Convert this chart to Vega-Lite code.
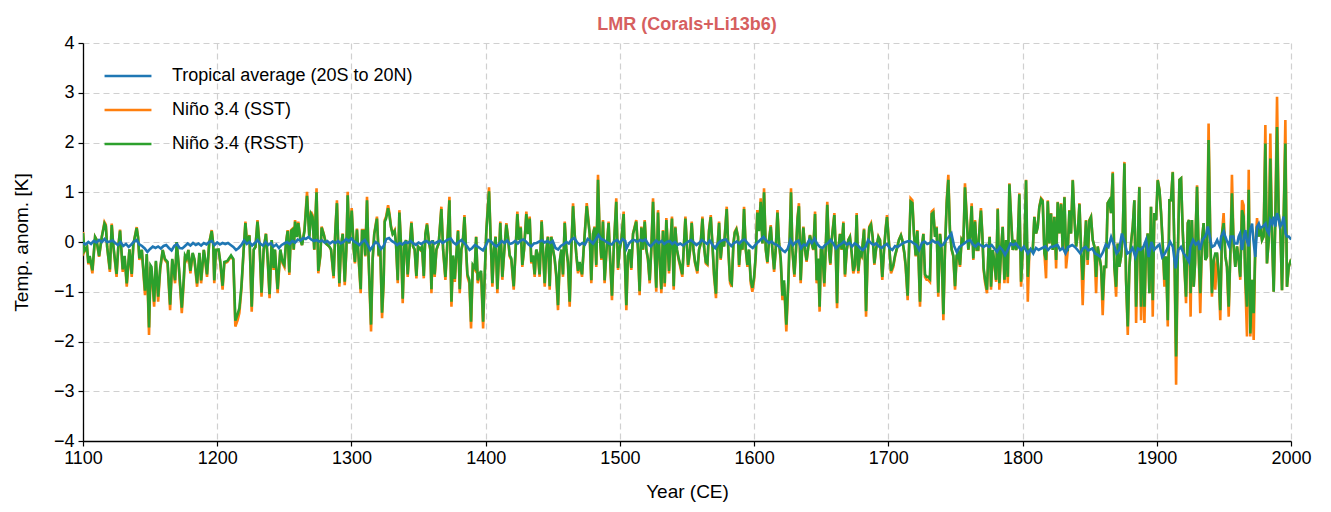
{
"$schema": "https://vega.github.io/schema/vega-lite/v6.json",
"width": 1208, "height": 398,
"autosize": {"type": "none"},
"padding": {"left": 83, "top": 43, "right": 40, "bottom": 71},
"background": "white",
"config": {"view": {"stroke": null}, "font": "Liberation Sans"},
"title": {"text": "LMR (Corals+Li13b6)", "color": "#d65f5f", "fontSize": 18, "fontWeight": "bold", "font": "Liberation Sans", "offset": 0},
"datasets": {
"nino": [
{"yr":1100,"a":0.2,"b":0.18},{"yr":1101,"a":-0.2,"b":-0.18},{"yr":1103,"a":-0.1,"b":-0.1},{"yr":1104,"a":-0.45,"b":-0.42},{"yr":1105,"a":-0.3,"b":-0.28},{"yr":1107,"a":-0.63,"b":-0.57},{"yr":1109,"a":0.1,"b":0.1},{"yr":1110,"a":0.05,"b":0.05},{"yr":1112,"a":-0.3,"b":-0.28},{"yr":1114,"a":0.1,"b":0.1},{"yr":1116,"a":0.4,"b":0.37},{"yr":1117,"a":0.35,"b":0.32},{"yr":1118,"a":-0.1,"b":-0.1},{"yr":1120,"a":-0.6,"b":-0.55},{"yr":1121.4,"a":0.37,"b":0.34},{"yr":1122.5,"a":-0.05,"b":-0.05},{"yr":1125,"a":-0.7,"b":-0.64},{"yr":1126.3,"a":-0.1,"b":-0.1},{"yr":1127.6,"a":0.25,"b":0.23},{"yr":1129.6,"a":-0.6,"b":-0.55},{"yr":1131,"a":-0.3,"b":-0.28},{"yr":1132.6,"a":-0.9,"b":-0.83},{"yr":1134.6,"a":-0.15,"b":-0.15},{"yr":1136.3,"a":-0.7,"b":-0.64},{"yr":1137.5,"a":-0.05,"b":-0.05},{"yr":1140,"a":0.3,"b":0.28},{"yr":1141,"a":0.1,"b":0.1},{"yr":1142,"a":-0.36,"b":-0.33},{"yr":1143.8,"a":-0.16,"b":-0.16},{"yr":1146.2,"a":-1.07,"b":-0.98},{"yr":1147.5,"a":-0.25,"b":-0.24},{"yr":1149.2,"a":-1.87,"b":-1.72},{"yr":1150.3,"a":-0.5,"b":-0.47},{"yr":1151,"a":-0.55,"b":-0.5},{"yr":1153,"a":-1.3,"b":-1.2},{"yr":1154.3,"a":-0.4,"b":-0.38},{"yr":1156,"a":-1.2,"b":-1.1},{"yr":1157.5,"a":-0.56,"b":-0.52},{"yr":1159.4,"a":-0.16,"b":-0.16},{"yr":1161,"a":-0.36,"b":-0.34},{"yr":1163,"a":-0.43,"b":-0.4},{"yr":1164.9,"a":-1.37,"b":-1.26},{"yr":1166.5,"a":-0.36,"b":-0.34},{"yr":1168.6,"a":-0.83,"b":-0.77},{"yr":1169.8,"a":0.0,"b":0.0},{"yr":1171.5,"a":-0.56,"b":-0.52},{"yr":1173.6,"a":-1.43,"b":-1.32},
{"yr":1175,"a":-0.83,"b":-0.77},{"yr":1176,"a":-0.29,"b":-0.27},{"yr":1177.2,"a":-0.36,"b":-0.33},{"yr":1178.5,"a":-0.16,"b":-0.16},{"yr":1180,"a":-0.63,"b":-0.58},{"yr":1181.7,"a":-0.23,"b":-0.22},{"yr":1183,"a":-0.36,"b":-0.34},{"yr":1185,"a":-0.9,"b":-0.83},{"yr":1186.7,"a":-0.23,"b":-0.22},{"yr":1188,"a":-0.83,"b":-0.77},{"yr":1190,"a":-0.16,"b":-0.16},{"yr":1191,"a":-0.36,"b":-0.34},{"yr":1192.4,"a":-0.7,"b":-0.65},{"yr":1194,"a":-0.03,"b":-0.03},{"yr":1195.9,"a":0.24,"b":0.22},{"yr":1197,"a":-0.03,"b":-0.03},{"yr":1197.8,"a":-0.83,"b":-0.77},{"yr":1199,"a":-0.16,"b":-0.16},{"yr":1201,"a":-0.16,"b":-0.15},{"yr":1202.3,"a":-0.43,"b":-0.4},{"yr":1204,"a":-0.96,"b":-0.88},{"yr":1205.3,"a":-0.43,"b":-0.4},{"yr":1207.5,"a":-0.4,"b":-0.38},{"yr":1210.3,"a":-0.29,"b":-0.27},{"yr":1212,"a":-0.36,"b":-0.34},{"yr":1213.5,"a":-1.7,"b":-1.58},{"yr":1215.2,"a":-1.57,"b":-1.45},{"yr":1216.5,"a":-1.43,"b":-1.33},{"yr":1218,"a":-0.96,"b":-0.9},{"yr":1219.7,"a":-0.16,"b":-0.15},{"yr":1221,"a":0.41,"b":0.38},{"yr":1222.2,"a":-0.03,"b":-0.03},{"yr":1224,"a":0.14,"b":0.13},{"yr":1225.7,"a":-1.4,"b":-1.3},{"yr":1227.2,"a":-0.16,"b":-0.15},{"yr":1228.5,"a":-0.1,"b":-0.1},{"yr":1230,"a":0.44,"b":0.41},{"yr":1231.6,"a":-0.09,"b":-0.09},{"yr":1233,"a":-1.1,"b":-1.02},{"yr":1234.6,"a":-0.16,"b":-0.15},{"yr":1236.3,"a":0.17,"b":0.16},{"yr":1237.6,"a":-0.36,"b":-0.34},{"yr":1239,"a":-1.13,"b":-1.05},{"yr":1240.6,"a":0.04,"b":0.04},{"yr":1242,"a":-0.56,"b":-0.52},{"yr":1243,"a":-0.16,"b":-0.15},{"yr":1245,"a":-1.03,"b":-0.95},{"yr":1247,"a":-0.16,"b":-0.15},{"yr":1248.7,"a":-0.43,"b":-0.4},{"yr":1250,"a":-0.5,"b":-0.46},{"yr":1251.2,"a":-0.03,"b":-0.03},{"yr":1252.5,"a":0.24,"b":0.22},{"yr":1253.7,"a":-0.66,"b":-0.61},{"yr":1255,"a":0.24,"b":0.22},{"yr":1256.2,"a":0.27,"b":0.25},{"yr":1257,"a":-0.16,"b":-0.15},{"yr":1258,"a":0.44,"b":0.41},{"yr":1259.4,"a":0.11,"b":0.1},{"yr":1260.4,"a":0.41,"b":0.38},{"yr":1262,"a":0.04,"b":0.04},{"yr":1263.2,"a":-0.06,"b":-0.06},{"yr":1265,"a":0.24,"b":0.22},{"yr":1266.9,"a":1.01,"b":0.93},{"yr":1268.6,"a":0.11,"b":0.1},{"yr":1269.9,"a":0.61,"b":0.56},{"yr":1271,"a":0.54,"b":0.5},{"yr":1272.3,"a":-0.16,"b":-0.15},{"yr":1274,"a":1.08,"b":1.0},{"yr":1275.3,"a":-0.63,"b":-0.58},{"yr":1276.8,"a":-0.29,"b":-0.27},{"yr":1277.8,"a":0.31,"b":0.29},{"yr":1279.3,"a":0.17,"b":0.16},{"yr":1281,"a":-0.03,"b":-0.03},{"yr":1283.5,"a":-0.09,"b":-0.09},{"yr":1284.8,"a":-0.16,"b":-0.15},{"yr":1286.7,"a":-0.73,"b":-0.68},{"yr":1288,"a":0.24,"b":0.22},{"yr":1289.2,"a":0.84,"b":0.78},{"yr":1291,"a":-0.9,"b":-0.83},{"yr":1292.2,"a":-0.09,"b":-0.09},{"yr":1293.5,"a":0.17,"b":0.16},{"yr":1295,"a":-0.87,"b":-0.8},{"yr":1296.2,"a":-0.16,"b":-0.15},{"yr":1297.2,"a":1.01,"b":0.94},{"yr":1298.4,"a":-0.03,"b":-0.03},{"yr":1300.2,"a":0.68,"b":0.63},{"yr":1301.7,"a":-0.16,"b":-0.15},{"yr":1302.6,"a":-0.43,"b":-0.4},{"yr":1304.1,"a":0.27,"b":0.25},{"yr":1305.4,"a":-0.36,"b":-0.33},{"yr":1306.9,"a":-1.03,"b":-0.95},{"yr":1307.9,"a":0.24,"b":0.22},{"yr":1309.1,"a":0.24,"b":0.22},{"yr":1310.3,"a":-0.29,"b":-0.27},{"yr":1311.6,"a":0.91,"b":0.84},{"yr":1312.8,"a":-0.36,"b":-0.33},{"yr":1314.6,"a":-1.8,"b":-1.66},{"yr":1315.8,"a":-0.36,"b":-0.33},{"yr":1317,"a":0.17,"b":0.16},{"yr":1319,"a":0.51,"b":0.47},{"yr":1320.3,"a":-0.29,"b":-0.27},{"yr":1321.5,"a":-0.16,"b":-0.15},{"yr":1322.8,"a":-1.53,"b":-1.42},
{"yr":1324,"a":-0.83,"b":-0.77},{"yr":1324.8,"a":0.44,"b":0.41},{"yr":1325.8,"a":0.51,"b":0.47},{"yr":1327.3,"a":0.74,"b":0.68},{"yr":1328.3,"a":0.58,"b":0.54},{"yr":1329.5,"a":0.31,"b":0.29},{"yr":1330.7,"a":0.17,"b":0.16},{"yr":1332.2,"a":0.24,"b":0.22},{"yr":1333.2,"a":-0.03,"b":-0.03},{"yr":1334.5,"a":-0.83,"b":-0.77},{"yr":1335.7,"a":0.64,"b":0.59},{"yr":1337,"a":-0.09,"b":-0.09},{"yr":1338.2,"a":-1.23,"b":-1.14},{"yr":1339.4,"a":-0.09,"b":-0.09},{"yr":1340.7,"a":0.04,"b":0.04},{"yr":1341.9,"a":-0.7,"b":-0.65},{"yr":1343.2,"a":-0.16,"b":-0.15},{"yr":1344.7,"a":0.41,"b":0.38},{"yr":1345.9,"a":-0.09,"b":-0.09},{"yr":1347.1,"a":-0.16,"b":-0.15},{"yr":1348.4,"a":-0.73,"b":-0.68},{"yr":1349.6,"a":-0.09,"b":-0.09},{"yr":1351.4,"a":-0.16,"b":-0.15},{"yr":1352.6,"a":-0.09,"b":-0.09},{"yr":1353.9,"a":-0.73,"b":-0.68},{"yr":1355.1,"a":0.17,"b":0.16},{"yr":1356.3,"a":0.38,"b":0.35},{"yr":1357.6,"a":0.04,"b":0.04},{"yr":1358.8,"a":-0.16,"b":-0.15},{"yr":1359.6,"a":-1.03,"b":-0.95},{"yr":1360.6,"a":0.04,"b":0.04},{"yr":1362,"a":-0.7,"b":-0.65},{"yr":1363.3,"a":-0.16,"b":-0.15},{"yr":1365,"a":-0.03,"b":-0.03},{"yr":1367,"a":0.71,"b":0.66},{"yr":1368.3,"a":-0.16,"b":-0.15},{"yr":1370,"a":-0.76,"b":-0.7},{"yr":1371.2,"a":-0.16,"b":-0.15},{"yr":1373,"a":0.91,"b":0.84},{"yr":1374.5,"a":-1.3,"b":-1.2},{"yr":1375.7,"a":-0.29,"b":-0.27},{"yr":1377,"a":-0.8,"b":-0.74},{"yr":1378.4,"a":-0.16,"b":-0.15},{"yr":1379.4,"a":0.24,"b":0.22},{"yr":1380.7,"a":-1.03,"b":-0.95},{"yr":1381.9,"a":-0.16,"b":-0.15},{"yr":1382.9,"a":-0.03,"b":-0.03},{"yr":1384.2,"a":0.54,"b":0.5},{"yr":1385.4,"a":-0.16,"b":-0.15},{"yr":1386.4,"a":-0.7,"b":-0.65},{"yr":1387.9,"a":-0.83,"b":-0.77},{"yr":1389.1,"a":-1.74,"b":-1.6},{"yr":1390.4,"a":-0.5,"b":-0.46},{"yr":1391.9,"a":-0.56,"b":-0.52},{"yr":1392.9,"a":0.11,"b":0.1},{"yr":1394.1,"a":-0.83,"b":-0.77},{"yr":1395.3,"a":-0.7,"b":-0.65},{"yr":1396.6,"a":-0.63,"b":-0.58},{"yr":1398.1,"a":-1.74,"b":-1.6},
{"yr":1399.3,"a":-0.7,"b":-0.65},{"yr":1400.5,"a":0.24,"b":0.22},{"yr":1402.5,"a":1.1,"b":1.02},{"yr":1404,"a":-0.16,"b":-0.15},{"yr":1405,"a":-0.9,"b":-0.83},{"yr":1406.2,"a":-0.16,"b":-0.15},{"yr":1407.4,"a":0.11,"b":0.1},{"yr":1408.7,"a":-1.03,"b":-0.95},{"yr":1409.9,"a":-0.29,"b":-0.27},{"yr":1410.9,"a":0.41,"b":0.38},{"yr":1412.4,"a":-0.76,"b":-0.7},{"yr":1413.6,"a":-0.29,"b":-0.27},{"yr":1415.4,"a":0.38,"b":0.35},{"yr":1416.6,"a":0.11,"b":0.1},{"yr":1417.9,"a":-0.29,"b":-0.27},{"yr":1419.1,"a":-0.36,"b":-0.33},{"yr":1420.9,"a":-0.96,"b":-0.89},{"yr":1422.3,"a":-0.16,"b":-0.15},{"yr":1423.6,"a":0.61,"b":0.56},{"yr":1424.8,"a":0.04,"b":0.04},{"yr":1426.1,"a":0.31,"b":0.29},{"yr":1427.3,"a":-0.5,"b":-0.46},{"yr":1428.6,"a":-0.16,"b":-0.15},{"yr":1430.3,"a":0.61,"b":0.56},{"yr":1431.5,"a":0.17,"b":0.16},{"yr":1432.8,"a":0.51,"b":0.47},{"yr":1434,"a":-0.43,"b":-0.4},{"yr":1435.3,"a":-0.29,"b":-0.27},{"yr":1436.5,"a":-0.7,"b":-0.65},{"yr":1437.7,"a":-0.16,"b":-0.15},{"yr":1439,"a":-0.29,"b":-0.27},{"yr":1440.2,"a":-0.7,"b":-0.65},{"yr":1441.7,"a":0.44,"b":0.41},{"yr":1442.7,"a":-0.16,"b":-0.15},{"yr":1444,"a":-0.9,"b":-0.83},{"yr":1445.2,"a":-0.16,"b":-0.15},{"yr":1446.4,"a":0.11,"b":0.1},{"yr":1447.7,"a":-0.96,"b":-0.89},{"yr":1448.9,"a":0.11,"b":0.1},{"yr":1450.2,"a":-0.16,"b":-0.15},{"yr":1451.4,"a":-0.36,"b":-0.33},{"yr":1452.6,"a":-0.7,"b":-0.65},{"yr":1453.9,"a":-1.37,"b":-1.27},{"yr":1455.1,"a":-0.43,"b":-0.4},{"yr":1456.4,"a":-0.16,"b":-0.15},{"yr":1457.6,"a":-0.7,"b":-0.65},{"yr":1458.9,"a":0.41,"b":0.38},{"yr":1460.1,"a":-0.16,"b":-0.15},{"yr":1461.3,"a":-0.43,"b":-0.4},{"yr":1462.6,"a":-1.3,"b":-1.2},{"yr":1463.8,"a":-0.16,"b":-0.15},{"yr":1465.1,"a":0.78,"b":0.72},{"yr":1466.3,"a":0.17,"b":0.16},{"yr":1467.6,"a":-0.29,"b":-0.27},{"yr":1468.8,"a":-0.63,"b":-0.58},{"yr":1470,"a":-0.43,"b":-0.4},{"yr":1471.8,"a":-0.7,"b":-0.65},{"yr":1473,"a":-0.16,"b":-0.15},{"yr":1475.3,"a":0.78,"b":0.72},
{"yr":1477.5,"a":0.17,"b":0.16},{"yr":1478.7,"a":-0.83,"b":-0.77},{"yr":1480,"a":0.17,"b":0.16},{"yr":1481.2,"a":0.31,"b":0.29},{"yr":1482.4,"a":-0.5,"b":-0.46},{"yr":1483.7,"a":1.35,"b":1.25},{"yr":1484.9,"a":0.17,"b":0.16},{"yr":1486.2,"a":-0.36,"b":-0.33},{"yr":1487.4,"a":0.44,"b":0.41},{"yr":1488.6,"a":-0.83,"b":-0.77},{"yr":1489.9,"a":-0.23,"b":-0.21},{"yr":1491.6,"a":0.41,"b":0.38},{"yr":1492.4,"a":-0.16,"b":-0.15},{"yr":1494.1,"a":-1.17,"b":-1.08},{"yr":1495.4,"a":-0.16,"b":-0.15},{"yr":1497.3,"a":0.88,"b":0.81},{"yr":1498.6,"a":-0.56,"b":-0.52},{"yr":1499.8,"a":-0.16,"b":-0.15},{"yr":1501.1,"a":0.04,"b":0.04},{"yr":1502.8,"a":0.61,"b":0.56},{"yr":1503.5,"a":-0.16,"b":-0.15},{"yr":1504.8,"a":-1.37,"b":-1.27},{"yr":1506,"a":-0.29,"b":-0.27},{"yr":1507.3,"a":-0.16,"b":-0.15},{"yr":1508.5,"a":-0.56,"b":-0.52},{"yr":1509.8,"a":0.17,"b":0.16},{"yr":1512.2,"a":0.44,"b":0.41},{"yr":1513.5,"a":-0.16,"b":-0.15},{"yr":1514.7,"a":-1.07,"b":-0.99},{"yr":1516,"a":0.31,"b":0.29},{"yr":1517.2,"a":-0.16,"b":-0.15},{"yr":1518.5,"a":0.44,"b":0.41},{"yr":1519.7,"a":-0.16,"b":-0.15},{"yr":1520.9,"a":-0.36,"b":-0.33},{"yr":1522.2,"a":-0.83,"b":-0.77},{"yr":1523.4,"a":-0.16,"b":-0.15},{"yr":1524.7,"a":0.88,"b":0.81},{"yr":1525.9,"a":-0.16,"b":-0.15},{"yr":1527.1,"a":-1.0,"b":-0.92},{"yr":1528.4,"a":0.64,"b":0.59},{"yr":1529.6,"a":-0.36,"b":-0.33},{"yr":1530.9,"a":-1.03,"b":-0.95},{"yr":1532.1,"a":0.24,"b":0.22},{"yr":1533.4,"a":-0.9,"b":-0.83},{"yr":1534.6,"a":0.48,"b":0.44},{"yr":1535.8,"a":-0.16,"b":-0.15},{"yr":1536.6,"a":-0.63,"b":-0.58},{"yr":1537.6,"a":-0.03,"b":-0.03},{"yr":1538.8,"a":0.51,"b":0.47},{"yr":1540.1,"a":-0.96,"b":-0.89},{"yr":1541.3,"a":0.31,"b":0.29},{"yr":1542.5,"a":-0.16,"b":-0.15},{"yr":1543.8,"a":-0.36,"b":-0.33},{"yr":1545,"a":-0.5,"b":-0.46},{"yr":1546.5,"a":-0.7,"b":-0.65},{"yr":1548.8,"a":0.51,"b":0.47},
{"yr":1550.8,"a":-0.5,"b":-0.46},{"yr":1552.3,"a":-0.16,"b":-0.15},{"yr":1553.5,"a":0.41,"b":0.38},{"yr":1554.8,"a":-0.16,"b":-0.15},{"yr":1556,"a":-0.43,"b":-0.4},{"yr":1557.7,"a":-0.63,"b":-0.58},{"yr":1559,"a":-0.16,"b":-0.15},{"yr":1560.2,"a":-0.03,"b":-0.03},{"yr":1561.5,"a":0.51,"b":0.47},{"yr":1562.7,"a":-0.09,"b":-0.09},{"yr":1564,"a":-0.43,"b":-0.4},{"yr":1565.2,"a":-0.46,"b":-0.43},{"yr":1566.4,"a":0.24,"b":0.22},{"yr":1567.7,"a":0.54,"b":0.5},{"yr":1568.9,"a":-0.03,"b":-0.03},{"yr":1570.2,"a":-0.7,"b":-0.65},{"yr":1571.6,"a":-1.13,"b":-1.04},{"yr":1572.6,"a":-0.16,"b":-0.15},{"yr":1573.9,"a":0.41,"b":0.38},{"yr":1575.1,"a":-0.36,"b":-0.33},{"yr":1576.4,"a":0.04,"b":0.04},{"yr":1577.6,"a":-0.09,"b":-0.09},{"yr":1579.6,"a":0.71,"b":0.66},{"yr":1580.8,"a":-0.16,"b":-0.15},{"yr":1582.1,"a":-0.83,"b":-0.77},{"yr":1583.3,"a":-0.9,"b":-0.83},{"yr":1584.6,"a":-0.03,"b":-0.03},{"yr":1585.6,"a":0.21,"b":0.19},{"yr":1586.8,"a":0.27,"b":0.25},{"yr":1588,"a":0.11,"b":0.1},{"yr":1588.8,"a":-0.5,"b":-0.46},{"yr":1590,"a":-0.03,"b":-0.03},{"yr":1591.3,"a":-0.16,"b":-0.15},{"yr":1592.5,"a":0.71,"b":0.66},{"yr":1593.8,"a":-0.16,"b":-0.15},{"yr":1595,"a":-0.5,"b":-0.46},{"yr":1596.2,"a":-0.16,"b":-0.15},{"yr":1597.5,"a":-0.83,"b":-0.77},{"yr":1598.7,"a":-1.0,"b":-0.92},{"yr":1600,"a":-0.76,"b":-0.7},{"yr":1601.2,"a":-0.29,"b":-0.27},{"yr":1602.4,"a":0.64,"b":0.59},{"yr":1603.7,"a":0.24,"b":0.22},{"yr":1604.9,"a":0.88,"b":0.81},{"yr":1606.2,"a":-0.03,"b":-0.03},{"yr":1607.4,"a":1.08,"b":1.0},{"yr":1608.7,"a":-0.16,"b":-0.15},{"yr":1609.9,"a":-0.43,"b":-0.4},{"yr":1611.1,"a":0.04,"b":0.04},{"yr":1612.4,"a":0.34,"b":0.31},{"yr":1613.6,"a":-0.16,"b":-0.15},{"yr":1614.9,"a":-0.6,"b":-0.55},{"yr":1616.1,"a":-0.16,"b":-0.15},{"yr":1617.4,"a":0.64,"b":0.59},{"yr":1618.6,"a":-0.03,"b":-0.03},{"yr":1619.8,"a":-0.36,"b":-0.33},{"yr":1621.1,"a":-1.17,"b":-1.08},{"yr":1622.3,"a":-0.83,"b":-0.77},{"yr":1624,"a":-1.8,"b":-1.66},
{"yr":1625.5,"a":-0.83,"b":-0.77},{"yr":1626.7,"a":0.24,"b":0.22},{"yr":1627.5,"a":1.08,"b":1.0},{"yr":1628.5,"a":-0.16,"b":-0.15},{"yr":1630,"a":-0.7,"b":-0.65},{"yr":1631.2,"a":-0.16,"b":-0.15},{"yr":1632.4,"a":0.51,"b":0.47},{"yr":1633.4,"a":0.78,"b":0.72},{"yr":1634.7,"a":-0.83,"b":-0.77},{"yr":1635.9,"a":-0.03,"b":-0.03},{"yr":1636.7,"a":0.31,"b":0.29},{"yr":1637.9,"a":-0.16,"b":-0.15},{"yr":1639.1,"a":-0.4,"b":-0.37},{"yr":1640.4,"a":-0.09,"b":-0.09},{"yr":1641.6,"a":0.14,"b":0.13},{"yr":1642.9,"a":-0.03,"b":-0.03},{"yr":1644.1,"a":-0.16,"b":-0.15},{"yr":1645.4,"a":0.61,"b":0.56},{"yr":1646.6,"a":-0.83,"b":-0.77},{"yr":1647.8,"a":-0.36,"b":-0.33},{"yr":1648.8,"a":-1.4,"b":-1.3},{"yr":1649.8,"a":-0.16,"b":-0.15},{"yr":1650.8,"a":-0.16,"b":-0.15},{"yr":1652.3,"a":-0.9,"b":-0.83},{"yr":1653.3,"a":-0.16,"b":-0.15},{"yr":1654.5,"a":0.81,"b":0.75},{"yr":1655.8,"a":-0.16,"b":-0.15},{"yr":1656.8,"a":-0.46,"b":-0.43},{"yr":1657.8,"a":0.04,"b":0.04},{"yr":1659.8,"a":0.58,"b":0.54},{"yr":1660.8,"a":-0.16,"b":-0.15},{"yr":1661.8,"a":-1.33,"b":-1.23},{"yr":1662.7,"a":-0.16,"b":-0.15},{"yr":1664,"a":0.17,"b":0.16},{"yr":1665.2,"a":-0.16,"b":-0.15},{"yr":1666.5,"a":0.41,"b":0.38},{"yr":1667.7,"a":-0.7,"b":-0.65},{"yr":1669,"a":-0.16,"b":-0.15},{"yr":1670.2,"a":0.04,"b":0.04},{"yr":1671.4,"a":0.11,"b":0.1},{"yr":1672.7,"a":-0.23,"b":-0.21},{"yr":1673.9,"a":-0.63,"b":-0.58},{"yr":1675.2,"a":-0.5,"b":-0.46},{"yr":1676.4,"a":0.58,"b":0.54},{"yr":1677.6,"a":-0.63,"b":-0.58},{"yr":1678.9,"a":-0.23,"b":-0.21},{"yr":1680.1,"a":-0.29,"b":-0.27},{"yr":1681.9,"a":0.27,"b":0.25},{"yr":1682.6,"a":-0.43,"b":-0.4},{"yr":1683.4,"a":-1.5,"b":-1.39},{"yr":1684.6,"a":-0.29,"b":-0.27},{"yr":1685.8,"a":0.31,"b":0.29},{"yr":1687.1,"a":0.38,"b":0.35},{"yr":1688.3,"a":0.11,"b":0.1},{"yr":1689.6,"a":-0.46,"b":-0.43},{"yr":1690.8,"a":-0.16,"b":-0.15},{"yr":1692.6,"a":0.11,"b":0.1},{"yr":1693.8,"a":0.04,"b":0.04},{"yr":1695.5,"a":-0.76,"b":-0.7},{"yr":1696.8,"a":-0.16,"b":-0.15},{"yr":1698,"a":0.27,"b":0.25},{"yr":1699,"a":0.54,"b":0.5},
{"yr":1700.5,"a":-0.03,"b":-0.03},{"yr":1702,"a":-0.63,"b":-0.58},{"yr":1703.7,"a":-0.5,"b":-0.46},{"yr":1705,"a":-0.29,"b":-0.27},{"yr":1706.2,"a":-0.16,"b":-0.15},{"yr":1707.9,"a":0.04,"b":0.04},{"yr":1709.4,"a":0.14,"b":0.13},{"yr":1710.4,"a":0.04,"b":0.04},{"yr":1711.9,"a":-0.23,"b":-0.21},{"yr":1712.9,"a":-0.5,"b":-0.46},{"yr":1714.4,"a":-1.17,"b":-1.08},{"yr":1715.4,"a":-0.16,"b":-0.15},{"yr":1716.6,"a":0.88,"b":0.81},{"yr":1717.9,"a":0.84,"b":0.78},{"yr":1719.1,"a":0.17,"b":0.16},{"yr":1720.4,"a":-0.29,"b":-0.27},{"yr":1721.6,"a":0.24,"b":0.22},{"yr":1722.3,"a":-0.16,"b":-0.15},{"yr":1723.6,"a":-1.3,"b":-1.2},{"yr":1724.8,"a":-0.16,"b":-0.15},{"yr":1726.1,"a":0.17,"b":0.16},{"yr":1727.3,"a":-0.7,"b":-0.65},{"yr":1728.5,"a":-0.76,"b":-0.7},{"yr":1729.8,"a":-0.76,"b":-0.7},{"yr":1731,"a":-0.8,"b":-0.74},{"yr":1732.3,"a":0.61,"b":0.56},{"yr":1733.5,"a":0.64,"b":0.59},{"yr":1734.8,"a":0.11,"b":0.1},{"yr":1736,"a":0.31,"b":0.29},{"yr":1737.2,"a":-1.1,"b":-1.02},{"yr":1738.5,"a":0.17,"b":0.16},{"yr":1739.7,"a":-0.16,"b":-0.15},{"yr":1741,"a":-1.57,"b":-1.45},{"yr":1742.2,"a":-0.16,"b":-0.15},{"yr":1743.5,"a":0.84,"b":0.78},{"yr":1744.7,"a":1.35,"b":1.25},{"yr":1745.9,"a":0.24,"b":0.22},{"yr":1747.2,"a":-0.16,"b":-0.15},{"yr":1748.4,"a":-0.29,"b":-0.27},{"yr":1749.7,"a":-0.96,"b":-0.89},{"yr":1750.9,"a":-0.29,"b":-0.27},{"yr":1752.1,"a":-0.23,"b":-0.21},{"yr":1753.4,"a":-0.5,"b":-0.46},{"yr":1754.6,"a":0.04,"b":0.04},{"yr":1755.9,"a":-0.03,"b":-0.03},{"yr":1757.1,"a":1.18,"b":1.1},{"yr":1758.4,"a":0.51,"b":0.47},{"yr":1759.6,"a":-0.16,"b":-0.15},{"yr":1760.8,"a":0.11,"b":0.1},{"yr":1762.1,"a":0.78,"b":0.72},{"yr":1763.3,"a":-0.36,"b":-0.33},{"yr":1764.6,"a":0.44,"b":0.41},{"yr":1765.8,"a":-0.16,"b":-0.15},{"yr":1767,"a":-0.16,"b":-0.15},{"yr":1768.3,"a":0.44,"b":0.41},{"yr":1769,"a":0.68,"b":0.63},{"yr":1770,"a":0.17,"b":0.16},{"yr":1771,"a":-0.56,"b":-0.52},{"yr":1772,"a":-0.8,"b":-0.74},{"yr":1773.5,"a":-1.03,"b":-0.96},
{"yr":1774.6,"a":-0.16,"b":-0.16},{"yr":1775.5,"a":0.11,"b":0.1},{"yr":1776.5,"a":-0.96,"b":-0.9},{"yr":1777.8,"a":-0.16,"b":-0.16},{"yr":1779,"a":-0.43,"b":-0.4},{"yr":1780.3,"a":-0.8,"b":-0.76},{"yr":1781.5,"a":0.68,"b":0.66},{"yr":1782.7,"a":-0.96,"b":-0.83},{"yr":1784,"a":-0.16,"b":-0.16},{"yr":1785.2,"a":0.31,"b":0.3},{"yr":1786.5,"a":-0.83,"b":-0.76},{"yr":1787.7,"a":0.04,"b":0.04},{"yr":1789,"a":-0.83,"b":-0.7},{"yr":1790.2,"a":1.18,"b":1.16},{"yr":1791.4,"a":0.51,"b":0.5},{"yr":1792.7,"a":-0.16,"b":-0.16},{"yr":1793.9,"a":0.04,"b":0.04},{"yr":1795.2,"a":-0.16,"b":-0.16},{"yr":1796.4,"a":-0.03,"b":-0.03},{"yr":1797.6,"a":0.98,"b":0.96},{"yr":1798.9,"a":-0.9,"b":-0.8},{"yr":1800.1,"a":-0.16,"b":-0.16},{"yr":1801.4,"a":-0.09,"b":-0.09},{"yr":1802.6,"a":1.25,"b":1.24},{"yr":1803.9,"a":-1.2,"b":-0.7},{"yr":1805.1,"a":-0.16,"b":-0.16},{"yr":1806.3,"a":-0.16,"b":-0.16},{"yr":1807.6,"a":-0.16,"b":-0.16},{"yr":1808.8,"a":0.51,"b":0.5},{"yr":1810.1,"a":0.17,"b":0.17},{"yr":1811.3,"a":0.31,"b":0.3},{"yr":1812.5,"a":0.71,"b":0.7},{"yr":1813.8,"a":0.88,"b":0.86},{"yr":1815,"a":0.84,"b":0.82},{"yr":1816.3,"a":-0.23,"b":-0.23},{"yr":1817.5,"a":-0.73,"b":-0.36},{"yr":1818.8,"a":0.84,"b":0.82},{"yr":1820,"a":-0.03,"b":-0.03},{"yr":1821.2,"a":0.58,"b":0.57},{"yr":1822.5,"a":-0.16,"b":-0.16},{"yr":1823.7,"a":0.51,"b":0.5},{"yr":1825,"a":-0.53,"b":-0.36},{"yr":1826.2,"a":0.81,"b":0.8},{"yr":1827.4,"a":0.17,"b":0.17},{"yr":1828.7,"a":0.78,"b":0.76},{"yr":1829.9,"a":-0.16,"b":-0.16},{"yr":1831.2,"a":0.91,"b":0.9},{"yr":1832.4,"a":-0.53,"b":-0.16},{"yr":1833.7,"a":-0.16,"b":-0.16},{"yr":1834.9,"a":0.64,"b":0.63},{"yr":1836.1,"a":0.17,"b":0.17},{"yr":1837.4,"a":1.25,"b":1.24},{"yr":1838.6,"a":0.51,"b":0.5},{"yr":1839.9,"a":-0.09,"b":-0.09},{"yr":1841.1,"a":0.17,"b":0.17},{"yr":1842.4,"a":0.78,"b":0.76},{"yr":1843.6,"a":-0.16,"b":-0.16},{"yr":1844.8,"a":-1.27,"b":-0.76},{"yr":1846.1,"a":-0.16,"b":-0.16},{"yr":1847.3,"a":0.44,"b":0.43},
{"yr":1848.5,"a":-0.46,"b":-0.36},{"yr":1849.8,"a":0.44,"b":0.43},{"yr":1851,"a":0.51,"b":0.5},{"yr":1852.3,"a":0.04,"b":0.04},{"yr":1853.5,"a":-0.09,"b":-0.09},{"yr":1854.8,"a":-1.03,"b":-0.7},{"yr":1856,"a":-0.09,"b":-0.09},{"yr":1857.2,"a":-0.29,"b":-0.29},{"yr":1858.5,"a":-0.5,"b":-0.5},{"yr":1859.7,"a":-1.47,"b":-1.17},{"yr":1861,"a":-0.5,"b":-0.5},{"yr":1862.2,"a":-0.5,"b":-0.5},{"yr":1863.4,"a":0.78,"b":0.78},{"yr":1864.7,"a":0.84,"b":0.84},{"yr":1865.9,"a":0.58,"b":0.58},{"yr":1867.2,"a":1.41,"b":1.38},{"yr":1868.4,"a":-0.5,"b":-0.5},{"yr":1869.7,"a":-1.1,"b":-0.9},{"yr":1870.9,"a":-0.03,"b":-0.03},{"yr":1872.1,"a":-0.5,"b":-0.5},{"yr":1873.4,"a":-0.29,"b":-0.29},{"yr":1874.6,"a":0.11,"b":0.11},{"yr":1875.9,"a":1.61,"b":1.58},{"yr":1877.1,"a":-0.76,"b":-0.76},{"yr":1878.4,"a":-1.87,"b":-1.7},{"yr":1879.6,"a":-0.5,"b":-0.5},{"yr":1880.8,"a":-0.03,"b":-0.03},{"yr":1882.1,"a":0.31,"b":0.31},{"yr":1883.3,"a":0.84,"b":0.84},{"yr":1884.6,"a":-1.63,"b":-1.3},{"yr":1885.8,"a":-0.09,"b":-0.09},{"yr":1887,"a":1.11,"b":1.1},{"yr":1888.3,"a":-1.57,"b":-1.3},{"yr":1889.5,"a":-0.09,"b":-0.09},{"yr":1890.8,"a":-1.63,"b":-1.3},{"yr":1892,"a":-0.09,"b":-0.09},{"yr":1893.3,"a":0.17,"b":0.17},{"yr":1894.5,"a":-1.03,"b":-1.03},{"yr":1895.7,"a":0.71,"b":0.71},{"yr":1897,"a":-1.5,"b":-1.17},{"yr":1898.2,"a":0.58,"b":0.58},{"yr":1899.5,"a":0.44,"b":0.44},{"yr":1900.7,"a":1.25,"b":1.24},{"yr":1902,"a":1.05,"b":1.04},{"yr":1903.2,"a":0.58,"b":0.58},{"yr":1904.4,"a":-0.03,"b":-0.03},{"yr":1905.7,"a":-0.9,"b":-0.76},{"yr":1906.9,"a":-0.29,"b":-0.29},{"yr":1908.2,"a":-1.7,"b":-1.57},{"yr":1909.4,"a":0.84,"b":0.84},{"yr":1910.6,"a":0.84,"b":0.84},{"yr":1911.9,"a":1.41,"b":1.4},{"yr":1913.1,"a":-0.09,"b":-0.09},{"yr":1914.4,"a":-2.87,"b":-2.3},{"yr":1915.6,"a":-0.36,"b":-0.36},{"yr":1916.9,"a":1.25,"b":1.25},{"yr":1918.1,"a":1.28,"b":1.28},{"yr":1919.3,"a":0.24,"b":0.24},{"yr":1920.6,"a":-0.5,"b":-0.5},{"yr":1921.8,"a":-1.23,"b":-1.1},{"yr":1923.1,"a":0.38,"b":0.38},
{"yr":1924,"a":0.44,"b":0.44},{"yr":1925.2,"a":-1.5,"b":-1.03},{"yr":1926.2,"a":0.44,"b":0.44},{"yr":1927.5,"a":-0.9,"b":-0.9},{"yr":1928.5,"a":-0.43,"b":-0.43},{"yr":1929.2,"a":0.41,"b":0.41},{"yr":1930,"a":1.14,"b":1.11},{"yr":1931.2,"a":-0.23,"b":-0.23},{"yr":1932.4,"a":-1.43,"b":-1.03},{"yr":1933.7,"a":0.04,"b":0.04},{"yr":1934.9,"a":0.38,"b":0.38},{"yr":1936.2,"a":-0.36,"b":-0.36},{"yr":1937.4,"a":-0.29,"b":-0.29},{"yr":1938.6,"a":2.38,"b":2.05},{"yr":1939.9,"a":0.04,"b":0.04},{"yr":1941.1,"a":-1.1,"b":-1.03},{"yr":1942.4,"a":-0.36,"b":-0.36},{"yr":1943.6,"a":-0.96,"b":-0.23},{"yr":1944.9,"a":-0.23,"b":-0.23},{"yr":1946.1,"a":-0.63,"b":-0.63},{"yr":1947.3,"a":-1.57,"b":-1.37},{"yr":1948.6,"a":0.17,"b":0.17},{"yr":1949.8,"a":0.58,"b":0.38},{"yr":1951.1,"a":-0.29,"b":-0.29},{"yr":1952.3,"a":-0.5,"b":-0.5},{"yr":1953.6,"a":-1.5,"b":-1.3},{"yr":1954.8,"a":-0.23,"b":-0.23},{"yr":1956,"a":1.35,"b":0.98},{"yr":1957.3,"a":-0.09,"b":-0.09},{"yr":1958.5,"a":-0.5,"b":-0.5},{"yr":1959.8,"a":-0.09,"b":-0.09},{"yr":1961,"a":-0.36,"b":-0.36},{"yr":1962.2,"a":-0.76,"b":-0.7},{"yr":1963.5,"a":0.84,"b":0.64},{"yr":1964.7,"a":0.74,"b":0.51},{"yr":1966,"a":-0.83,"b":-0.76},{"yr":1967.2,"a":-1.9,"b":-1.3},{"yr":1968.5,"a":1.45,"b":1.05},{"yr":1969.7,"a":-1.9,"b":-1.84},{"yr":1970.9,"a":-0.76,"b":-0.76},{"yr":1972.2,"a":-1.97,"b":-1.43},{"yr":1973.4,"a":-0.09,"b":-0.09},{"yr":1974.7,"a":0.48,"b":0.31},{"yr":1975.9,"a":0.11,"b":0.11},{"yr":1977.1,"a":0.31,"b":0.31},{"yr":1978.4,"a":0.04,"b":0.04},{"yr":1979.6,"a":0.11,"b":0.11},{"yr":1980.9,"a":2.35,"b":1.98},{"yr":1982.1,"a":-0.43,"b":-0.43},{"yr":1983.4,"a":0.04,"b":0.04},{"yr":1984.6,"a":2.18,"b":1.68},{"yr":1985.8,"a":0.17,"b":0.17},{"yr":1987.1,"a":-1.0,"b":-1.0},{"yr":1988.3,"a":0.44,"b":0.44},{"yr":1989.6,"a":2.92,"b":2.31},{"yr":1990.8,"a":0.58,"b":0.58},{"yr":1992.1,"a":0.24,"b":0.24},{"yr":1993.3,"a":-0.97,"b":-0.97},{"yr":1994.5,"a":0.44,"b":0.44},{"yr":1995.8,"a":2.45,"b":1.98},{"yr":1997,"a":-0.9,"b":-0.9},{"yr":1998.3,"a":-0.5,"b":-0.5},{"yr":1999.5,"a":-0.4,"b":-0.4},{"yr":2000,"a":-0.43,"b":-0.43}
],
"trop": [
{"yr":1100,"t":-0.02},{"yr":1102,"t":-0.05},{"yr":1104,"t":0.0},{"yr":1106,"t":-0.04},{"yr":1108,"t":0.02},{"yr":1110,"t":-0.01},{"yr":1112,"t":0.04},{"yr":1114,"t":0.0},{"yr":1116,"t":0.06},{"yr":1118,"t":0.0},{"yr":1120,"t":0.01},{"yr":1122,"t":0.03},{"yr":1124,"t":-0.02},{"yr":1126,"t":-0.06},{"yr":1128,"t":0.0},{"yr":1130,"t":-0.08},{"yr":1132,"t":-0.04},{"yr":1134,"t":-0.1},{"yr":1136,"t":-0.05},{"yr":1138,"t":0.01},{"yr":1140,"t":0.04},{"yr":1142,"t":-0.05},{"yr":1144,"t":-0.08},{"yr":1146,"t":-0.13},{"yr":1148,"t":-0.2},{"yr":1150,"t":-0.14},{"yr":1152,"t":-0.09},{"yr":1154,"t":-0.12},{"yr":1156,"t":-0.09},{"yr":1158,"t":-0.13},{"yr":1160,"t":-0.08},{"yr":1162,"t":-0.06},{"yr":1164,"t":-0.12},{"yr":1166,"t":-0.17},{"yr":1168,"t":-0.08},{"yr":1170,"t":-0.04},{"yr":1172,"t":-0.12},{"yr":1174,"t":-0.13},
{"yr":1176,"t":-0.08},{"yr":1178,"t":-0.03},{"yr":1180,"t":-0.07},{"yr":1182,"t":-0.02},{"yr":1184,"t":-0.06},{"yr":1186,"t":-0.03},{"yr":1188,"t":-0.07},{"yr":1190,"t":-0.02},{"yr":1192,"t":-0.05},{"yr":1194,"t":0.0},{"yr":1196,"t":0.02},{"yr":1198,"t":-0.06},{"yr":1200,"t":-0.01},{"yr":1202,"t":-0.05},{"yr":1204,"t":-0.02},{"yr":1206,"t":-0.04},{"yr":1208,"t":-0.02},{"yr":1210,"t":-0.06},{"yr":1212,"t":-0.1},{"yr":1214,"t":-0.16},{"yr":1216,"t":-0.12},{"yr":1218,"t":-0.06},{"yr":1220,"t":0.03},{"yr":1222,"t":-0.04},{"yr":1224,"t":0.0},{"yr":1226,"t":-0.07},{"yr":1228,"t":-0.02},{"yr":1230,"t":0.04},{"yr":1232,"t":-0.03},{"yr":1234,"t":-0.07},{"yr":1236,"t":0.0},{"yr":1238,"t":-0.06},{"yr":1240,"t":-0.02},{"yr":1242,"t":-0.09},{"yr":1244,"t":-0.05},{"yr":1246,"t":-0.12},{"yr":1248,"t":-0.06},
{"yr":1250,"t":-0.03},{"yr":1252,"t":0.0},{"yr":1254,"t":-0.04},{"yr":1256,"t":0.02},{"yr":1258,"t":-0.01},{"yr":1260,"t":0.05},{"yr":1262,"t":0.03},{"yr":1264,"t":0.08},{"yr":1266,"t":0.06},{"yr":1268,"t":0.1},{"yr":1270,"t":0.05},{"yr":1272,"t":0.02},{"yr":1274,"t":0.04},{"yr":1276,"t":0.01},{"yr":1278,"t":0.03},{"yr":1280,"t":-0.01},{"yr":1282,"t":0.02},{"yr":1284,"t":-0.03},{"yr":1286,"t":0.01},{"yr":1288,"t":-0.02},{"yr":1290,"t":0.02},{"yr":1292,"t":-0.03},{"yr":1294,"t":0.0},{"yr":1296,"t":0.06},{"yr":1298,"t":0.02},{"yr":1300,"t":0.07},{"yr":1302,"t":0.01},{"yr":1304,"t":-0.02},{"yr":1306,"t":-0.06},{"yr":1308,"t":0.0},{"yr":1310,"t":0.04},{"yr":1312,"t":-0.05},{"yr":1314,"t":-0.16},{"yr":1316,"t":-0.08},{"yr":1318,"t":0.0},{"yr":1320,"t":-0.04},{"yr":1322,"t":-0.14},{"yr":1324,"t":-0.08},
{"yr":1326,"t":0.06},{"yr":1328,"t":0.08},{"yr":1330,"t":0.02},{"yr":1332,"t":-0.01},{"yr":1334,"t":-0.06},{"yr":1336,"t":-0.02},{"yr":1338,"t":-0.05},{"yr":1340,"t":0.0},{"yr":1342,"t":-0.02},{"yr":1344,"t":0.02},{"yr":1346,"t":-0.03},{"yr":1348,"t":-0.06},{"yr":1350,"t":-0.01},{"yr":1352,"t":-0.04},{"yr":1354,"t":0.0},{"yr":1356,"t":0.02},{"yr":1358,"t":-0.03},{"yr":1360,"t":0.01},{"yr":1362,"t":-0.03},{"yr":1364,"t":0.0},{"yr":1366,"t":0.03},{"yr":1368,"t":-0.02},{"yr":1370,"t":0.02},{"yr":1372,"t":0.05},{"yr":1374,"t":0.07},{"yr":1376,"t":-0.01},{"yr":1378,"t":-0.05},{"yr":1380,"t":0.0},{"yr":1382,"t":0.04},{"yr":1384,"t":-0.02},{"yr":1386,"t":-0.08},{"yr":1388,"t":-0.16},{"yr":1390,"t":-0.12},{"yr":1392,"t":-0.06},{"yr":1394,"t":-0.09},{"yr":1396,"t":-0.13},{"yr":1398,"t":-0.17},
{"yr":1400,"t":-0.08},{"yr":1402,"t":0.04},{"yr":1404,"t":0.01},{"yr":1406,"t":-0.05},{"yr":1408,"t":-0.09},{"yr":1410,"t":-0.04},{"yr":1412,"t":0.02},{"yr":1414,"t":-0.02},{"yr":1416,"t":0.03},{"yr":1418,"t":-0.04},{"yr":1420,"t":-0.02},{"yr":1422,"t":0.02},{"yr":1424,"t":-0.03},{"yr":1426,"t":0.03},{"yr":1428,"t":0.05},{"yr":1430,"t":0.01},{"yr":1432,"t":-0.05},{"yr":1434,"t":-0.09},{"yr":1436,"t":-0.03},{"yr":1438,"t":-0.02},{"yr":1440,"t":0.01},{"yr":1442,"t":0.03},{"yr":1444,"t":-0.01},{"yr":1446,"t":0.02},{"yr":1448,"t":-0.02},{"yr":1450,"t":0.02},{"yr":1452,"t":-0.12},{"yr":1454,"t":-0.15},{"yr":1456,"t":-0.08},{"yr":1458,"t":-0.05},{"yr":1460,"t":0.0},{"yr":1462,"t":-0.03},{"yr":1464,"t":0.05},{"yr":1466,"t":0.08},{"yr":1468,"t":0.0},{"yr":1470,"t":-0.06},{"yr":1472,"t":-0.02},{"yr":1474,"t":-0.05},
{"yr":1476,"t":0.06},{"yr":1478,"t":0.02},{"yr":1480,"t":-0.03},{"yr":1482,"t":0.05},{"yr":1484,"t":0.14},{"yr":1486,"t":0.06},{"yr":1488,"t":0.04},{"yr":1490,"t":0.0},{"yr":1492,"t":-0.03},{"yr":1494,"t":-0.05},{"yr":1496,"t":0.02},{"yr":1498,"t":0.04},{"yr":1500,"t":-0.02},{"yr":1502,"t":0.06},{"yr":1504,"t":0.02},{"yr":1505,"t":-0.13},{"yr":1507,"t":-0.02},{"yr":1509,"t":0.03},{"yr":1511,"t":0.04},{"yr":1513,"t":0.0},{"yr":1515,"t":0.04},{"yr":1517,"t":0.02},{"yr":1519,"t":0.05},{"yr":1521,"t":-0.04},{"yr":1523,"t":-0.09},{"yr":1525,"t":-0.03},{"yr":1527,"t":0.03},{"yr":1529,"t":-0.02},{"yr":1531,"t":0.02},{"yr":1533,"t":-0.04},{"yr":1535,"t":0.0},{"yr":1537,"t":0.02},{"yr":1539,"t":-0.04},{"yr":1541,"t":0.0},{"yr":1543,"t":-0.06},{"yr":1545,"t":-0.03},{"yr":1547,"t":-0.07},
{"yr":1549,"t":-0.03},{"yr":1551,"t":0.01},{"yr":1553,"t":0.04},{"yr":1555,"t":-0.01},{"yr":1557,"t":-0.06},{"yr":1559,"t":-0.02},{"yr":1561,"t":0.04},{"yr":1563,"t":0.0},{"yr":1565,"t":-0.04},{"yr":1567,"t":0.03},{"yr":1569,"t":-0.06},{"yr":1571,"t":-0.12},{"yr":1573,"t":-0.03},{"yr":1575,"t":0.02},{"yr":1577,"t":0.04},{"yr":1579,"t":0.05},{"yr":1581,"t":-0.02},{"yr":1583,"t":-0.08},{"yr":1585,"t":-0.02},{"yr":1587,"t":0.01},{"yr":1589,"t":-0.03},{"yr":1591,"t":0.03},{"yr":1593,"t":0.05},{"yr":1595,"t":-0.02},{"yr":1597,"t":-0.08},{"yr":1599,"t":-0.12},{"yr":1601,"t":-0.06},{"yr":1603,"t":0.0},{"yr":1605,"t":0.05},{"yr":1607,"t":0.1},{"yr":1609,"t":0.03},{"yr":1611,"t":-0.02},{"yr":1613,"t":0.01},{"yr":1615,"t":-0.04},{"yr":1617,"t":-0.06},{"yr":1619,"t":-0.1},{"yr":1621,"t":-0.16},{"yr":1623,"t":-0.2},
{"yr":1625,"t":-0.14},{"yr":1627,"t":0.04},{"yr":1629,"t":-0.06},{"yr":1631,"t":0.0},{"yr":1633,"t":0.03},{"yr":1635,"t":-0.12},{"yr":1637,"t":-0.05},{"yr":1639,"t":-0.07},{"yr":1641,"t":0.04},{"yr":1643,"t":-0.02},{"yr":1645,"t":0.07},{"yr":1647,"t":-0.04},{"yr":1649,"t":-0.1},{"yr":1651,"t":-0.12},{"yr":1653,"t":-0.06},{"yr":1655,"t":-0.02},{"yr":1657,"t":0.04},{"yr":1659,"t":-0.03},{"yr":1661,"t":-0.13},{"yr":1663,"t":-0.07},{"yr":1665,"t":-0.04},{"yr":1667,"t":0.01},{"yr":1669,"t":-0.05},{"yr":1671,"t":-0.02},{"yr":1673,"t":-0.09},{"yr":1675,"t":-0.03},{"yr":1677,"t":-0.06},{"yr":1679,"t":-0.12},{"yr":1681,"t":-0.16},{"yr":1683,"t":-0.1},{"yr":1685,"t":0.04},{"yr":1687,"t":-0.02},{"yr":1689,"t":-0.06},{"yr":1691,"t":-0.03},{"yr":1693,"t":-0.09},{"yr":1695,"t":-0.12},{"yr":1697,"t":-0.07},{"yr":1699,"t":-0.04},
{"yr":1701,"t":-0.12},{"yr":1703,"t":-0.16},{"yr":1705,"t":-0.08},{"yr":1707,"t":-0.1},{"yr":1709,"t":-0.06},{"yr":1711,"t":-0.02},{"yr":1713,"t":0.0},{"yr":1715,"t":0.02},{"yr":1717,"t":0.01},{"yr":1719,"t":-0.03},{"yr":1721,"t":-0.06},{"yr":1723,"t":-0.16},{"yr":1725,"t":-0.02},{"yr":1727,"t":0.01},{"yr":1729,"t":-0.04},{"yr":1731,"t":-0.02},{"yr":1733,"t":0.03},{"yr":1735,"t":-0.01},{"yr":1737,"t":0.0},{"yr":1739,"t":-0.08},{"yr":1741,"t":-0.05},{"yr":1743,"t":0.04},{"yr":1745,"t":0.1},{"yr":1747,"t":0.17},{"yr":1749,"t":-0.08},{"yr":1751,"t":-0.2},{"yr":1753,"t":-0.1},{"yr":1755,"t":-0.06},{"yr":1757,"t":-0.02},{"yr":1759,"t":0.02},{"yr":1761,"t":0.04},{"yr":1763,"t":-0.05},{"yr":1765,"t":-0.09},{"yr":1767,"t":-0.03},{"yr":1769,"t":-0.07},{"yr":1771,"t":-0.1},{"yr":1773,"t":-0.06},{"yr":1775,"t":-0.1},
{"yr":1777,"t":-0.06},{"yr":1779,"t":-0.13},{"yr":1781,"t":-0.2},{"yr":1783,"t":-0.1},{"yr":1785,"t":-0.16},{"yr":1787,"t":-0.26},{"yr":1789,"t":-0.16},{"yr":1791,"t":-0.03},{"yr":1793,"t":-0.06},{"yr":1795,"t":-0.03},{"yr":1797,"t":-0.1},{"yr":1799,"t":-0.16},{"yr":1801,"t":-0.09},{"yr":1804,"t":-0.23},{"yr":1806,"t":-0.14},{"yr":1808,"t":-0.23},{"yr":1810,"t":-0.12},{"yr":1812,"t":-0.16},{"yr":1814,"t":-0.13},{"yr":1817,"t":-0.09},{"yr":1819,"t":-0.16},{"yr":1821,"t":-0.1},{"yr":1823,"t":-0.09},{"yr":1826,"t":-0.06},{"yr":1828,"t":-0.16},{"yr":1830,"t":-0.12},{"yr":1832,"t":-0.23},{"yr":1834,"t":-0.1},{"yr":1837,"t":-0.06},{"yr":1839,"t":-0.1},{"yr":1841,"t":-0.16},{"yr":1843,"t":-0.23},{"yr":1845,"t":-0.13},{"yr":1847,"t":-0.1},
{"yr":1849,"t":-0.17},{"yr":1852,"t":-0.13},{"yr":1854,"t":-0.23},{"yr":1856,"t":-0.26},{"yr":1858,"t":-0.3},{"yr":1860,"t":-0.2},{"yr":1862,"t":-0.05},{"yr":1864,"t":-0.1},{"yr":1866,"t":0.1},{"yr":1868,"t":-0.05},{"yr":1870,"t":-0.23},{"yr":1872,"t":-0.16},{"yr":1874,"t":0.17},{"yr":1876,"t":0.0},{"yr":1878,"t":-0.23},{"yr":1880,"t":-0.2},{"yr":1882,"t":-0.12},{"yr":1884,"t":-0.3},{"yr":1886,"t":-0.13},{"yr":1888,"t":-0.16},{"yr":1890,"t":-0.1},{"yr":1892,"t":0.04},{"yr":1894,"t":-0.3},{"yr":1896,"t":0.0},{"yr":1898,"t":-0.16},{"yr":1900,"t":-0.1},{"yr":1902,"t":-0.05},{"yr":1904,"t":-0.3},{"yr":1906,"t":-0.23},{"yr":1908,"t":-0.13},{"yr":1910,"t":0.0},{"yr":1912,"t":-0.1},{"yr":1914,"t":-0.53},{"yr":1916,"t":-0.16},{"yr":1918,"t":-0.1},{"yr":1920,"t":-0.23},{"yr":1922,"t":-0.3},
{"yr":1924,"t":-0.4},{"yr":1925,"t":-0.1},{"yr":1927,"t":0.04},{"yr":1929,"t":-0.05},{"yr":1931,"t":0.0},{"yr":1932,"t":-0.16},{"yr":1934,"t":0.04},{"yr":1936,"t":0.11},{"yr":1937,"t":0.17},{"yr":1938,"t":0.31},{"yr":1940,"t":0.04},{"yr":1941,"t":-0.1},{"yr":1943,"t":-0.07},{"yr":1945,"t":0.04},{"yr":1946,"t":-0.03},{"yr":1947,"t":-0.09},{"yr":1948,"t":0.11},{"yr":1950,"t":0.21},{"yr":1951,"t":0.11},{"yr":1952,"t":0.04},{"yr":1954,"t":-0.09},{"yr":1955,"t":0.11},{"yr":1957,"t":0.11},{"yr":1958,"t":-0.03},{"yr":1960,"t":-0.03},{"yr":1961,"t":0.11},{"yr":1962,"t":0.17},{"yr":1963.5,"t":-0.16},{"yr":1965,"t":0.11},{"yr":1966,"t":0.24},{"yr":1967,"t":0.04},{"yr":1968.5,"t":-0.09},{"yr":1969.7,"t":0.24},{"yr":1971,"t":0.37},{"yr":1972,"t":0.04},{"yr":1973.4,"t":-0.3},{"yr":1974.7,"t":0.31},{"yr":1976,"t":0.37},{"yr":1977,"t":0.28},{"yr":1979,"t":0.31},{"yr":1981,"t":0.37},{"yr":1982,"t":0.24},{"yr":1983.4,"t":0.17},{"yr":1984.6,"t":0.44},{"yr":1986,"t":0.37},{"yr":1987,"t":0.51},{"yr":1988.3,"t":0.31},{"yr":1989.6,"t":0.58},{"yr":1991,"t":0.44},{"yr":1992,"t":0.31},{"yr":1993.3,"t":0.37},{"yr":1994.5,"t":0.51},{"yr":1996,"t":0.17},{"yr":1997,"t":0.11},{"yr":1998.3,"t":0.11},{"yr":1999.5,"t":0.07},{"yr":2000,"t":0.08}
]
},
"encoding": {
"x": {"field": "yr", "type": "quantitative", "title": "Year (CE)",
 "scale": {"domain": [1100, 2000], "nice": false},
 "axis": {"values": [1100,1200,1300,1400,1500,1600,1700,1800,1900,2000], "format": "d", "labelFlush": false, "labelOverlap": false, "labelFontSize": 18, "titleFontSize": 19, "labelColor": "black", "titleColor": "black", "titleFontWeight": "normal", "domainColor": "black", "domainWidth": 1.3, "tickColor": "black", "tickSize": 5, "tickWidth": 1.2, "labelPadding": 3, "titlePadding": 15, "grid": true, "gridColor": "#d0d0d0", "gridDash": [6, 4], "gridWidth": 1.2, "labelFont": "Liberation Sans", "titleFont": "Liberation Sans"}}
},
"layer": [
{"data": {"name": "nino"}, "mark": {"type": "line", "strokeWidth": 2.6, "clip": true},
 "encoding": {"y": {"field": "a", "type": "quantitative", "title": "Temp. anom. [K]",
   "scale": {"domain": [-4, 4], "nice": false},
   "axis": {"values": [-4,-3,-2,-1,0,1,2,3,4], "labelFontSize": 18, "titleFontSize": 19, "labelColor": "black", "titleColor": "black", "titleFontWeight": "normal", "domainColor": "black", "domainWidth": 1.3, "tickColor": "black", "tickSize": 5, "tickWidth": 1.2, "labelPadding": 4, "titlePadding": 22, "grid": true, "gridColor": "#d0d0d0", "gridDash": [6, 4], "gridWidth": 1.2, "labelFont": "Liberation Sans", "titleFont": "Liberation Sans"}},
  "color": {"datum": "Niño 3.4 (SST)", "type": "nominal",
   "scale": {"domain": ["Tropical average (20S to 20N)", "Niño 3.4 (SST)", "Niño 3.4 (RSST)"], "range": ["#1f77b4", "#ff7f0e", "#2ca02c"]},
   "legend": {"title": null, "orient": "none", "legendX": 20, "legendY": 8, "symbolType": "stroke", "symbolSize": 2200, "symbolStrokeWidth": 2.6, "labelFontSize": 18, "labelFont": "Liberation Sans", "labelColor": "black", "labelOffset": 19, "rowPadding": -2, "labelLimit": 400}}}},
{"data": {"name": "nino"}, "mark": {"type": "line", "strokeWidth": 2.6, "clip": true},
 "encoding": {"y": {"field": "b", "type": "quantitative"},
  "color": {"datum": "Niño 3.4 (RSST)", "type": "nominal"}}},
{"data": {"name": "trop"}, "mark": {"type": "line", "strokeWidth": 2.6, "clip": true},
 "encoding": {"y": {"field": "t", "type": "quantitative"},
  "color": {"datum": "Tropical average (20S to 20N)", "type": "nominal"}}}
]
}
